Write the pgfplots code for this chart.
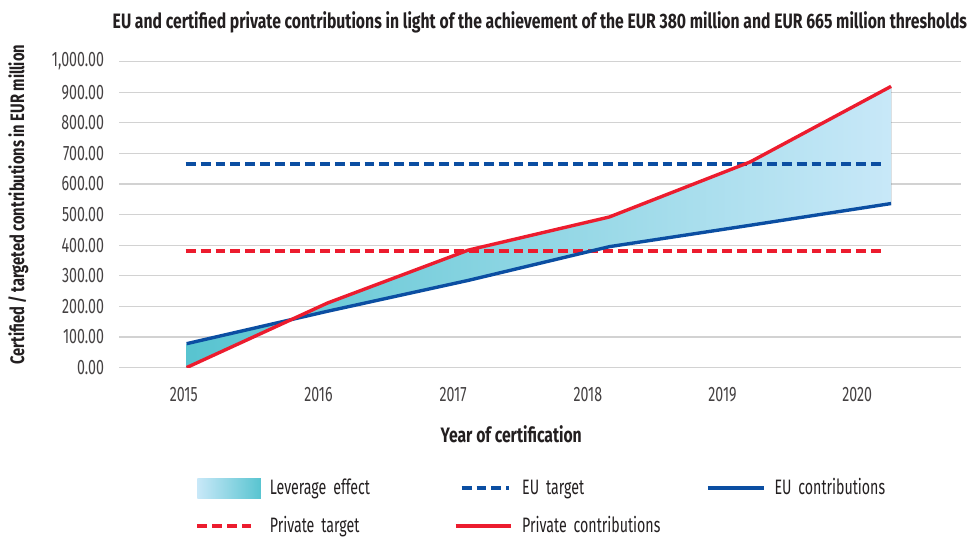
\documentclass[border=0pt]{standalone}
\usepackage{fontspec}
\setmainfont{Fira Sans}[FakeStretch=0.68, BoldFeatures={FakeStretch=0.755}]
\usepackage{pgfplots}
\pgfplotsset{compat=1.18}
\usepgfplotslibrary{fillbetween}
\definecolor{euBlue}{HTML}{0B4EA2}
\definecolor{privRed}{HTML}{EC1C2E}
\definecolor{levTeal}{HTML}{58C4D0}
\definecolor{levLight}{HTML}{C8E8F8}
\definecolor{gridGray}{HTML}{D2D2D2}
\definecolor{txt}{HTML}{231F20}
\begin{document}
\fontsize{10.5}{12.6}\selectfont
\begin{tikzpicture}
\begin{axis}[
  name=ax,
  at={(0pt,0pt)}, anchor=south west,
  scale only axis,
  width=423.5pt, height=154pt,
  xmin=2014.521, xmax=2020.767,
  ymin=0, ymax=1000,
  xtick={2015,2016,2017,2018,2019,2020},
  xticklabels={2015,2016,2017,2018,2019,2020},
  ytick={0,100,...,1000},
  yticklabel style={/pgf/number format/fixed, /pgf/number format/fixed zerofill, /pgf/number format/precision=2, /pgf/number format/1000 sep={,}, /pgf/number format/assume math mode=true},
  yticklabel style={xshift=-4pt, text=txt!85},
  xticklabel style={yshift=-6.5pt, text=txt!85},
  axis line style={draw=none},
  tick style={draw=none},
  ymajorgrids,
  grid style={gridGray, line width=0.6pt},
  title={EU and certified private contributions in light of the achievement of the EUR 380 million and EUR 665 million thresholds},
  title style={at={(0.5,1)}, anchor=base, yshift=10.5pt, font=\bfseries, text=txt},
  ylabel={Certified / targeted contributions in EUR million},
  ylabel style={at={(axis description cs:-0.12,0.532)}, anchor=center, font=\fontsize{9.8}{11.5}\selectfont\bfseries, text=txt},
  xlabel={Year of certification},
  xlabel style={at={(axis description cs:0.466,-0.2175)}, anchor=center, font=\bfseries, text=txt},
  legend columns=3,
  legend cell align=left,
  legend style={draw=none, fill=none, at={(axis description cs:0.083,-0.336)}, anchor=north west,
    /tikz/every even column/.append style={column sep=4pt},
    nodes={text width=84pt, inner ysep=2pt, inner xsep=4.5pt, anchor=west, text=txt},
    /tikz/row sep=5pt},
]
\addlegendimage{legend image code/.code={\shade[draw=none, left color=levLight, right color=levTeal] (0pt,-5pt) rectangle (32pt,5pt);}}
\addlegendentry{Leverage effect}
\addlegendimage{legend image code/.code={\draw[euBlue, line width=2pt, dash pattern=on 5pt off 2.5pt] (3pt,0pt) -- (27pt,0pt);}}
\addlegendentry{EU target}
\addlegendimage{legend image code/.code={\draw[euBlue, line width=2pt] (0pt,0pt) -- (28pt,0pt);}}
\addlegendentry{EU contributions}
\addlegendimage{legend image code/.code={\draw[privRed, line width=2pt, dash pattern=on 5pt off 2.5pt] (0pt,0pt) -- (27pt,0pt);}}
\addlegendentry{Private target}
\addlegendimage{legend image code/.code={\draw[privRed, line width=2pt] (0pt,0pt) -- (28pt,0pt);}}
\addlegendentry{Private contributions}

\addplot[name path=eu, draw=none, forget plot] coordinates {
 (2015.022,78) (2016.068,184) (2017.114,285) (2018.159,395) (2019.205,465) (2020.251,536)};
\addplot[name path=priv, draw=none, forget plot] coordinates {
 (2015.022,0) (2016.068,211) (2017.114,384) (2018.159,492) (2019.205,672) (2020.251,919)};
\addplot[left color=levTeal, right color=levLight, draw=none, forget plot] fill between[of=priv and eu];
\addplot[euBlue, line width=2pt, dash pattern=on 5pt off 2.5pt, forget plot] coordinates {(2015.015,665) (2020.2,665)};
\addplot[privRed, line width=2pt, dash pattern=on 5pt off 2.5pt, forget plot] coordinates {(2015.015,380) (2020.2,380)};
\addplot[euBlue, line width=1.7pt, forget plot] coordinates {
 (2015.022,78) (2016.068,184) (2017.114,285) (2018.159,395) (2019.205,465) (2020.251,536)};
\addplot[privRed, line width=1.7pt, forget plot] coordinates {
 (2015.022,0) (2016.068,211) (2017.114,384) (2018.159,492) (2019.205,672) (2020.251,919)};
\end{axis}
\path (-60pt,-82pt) rectangle (427pt,185pt);
\end{tikzpicture}
\end{document}
